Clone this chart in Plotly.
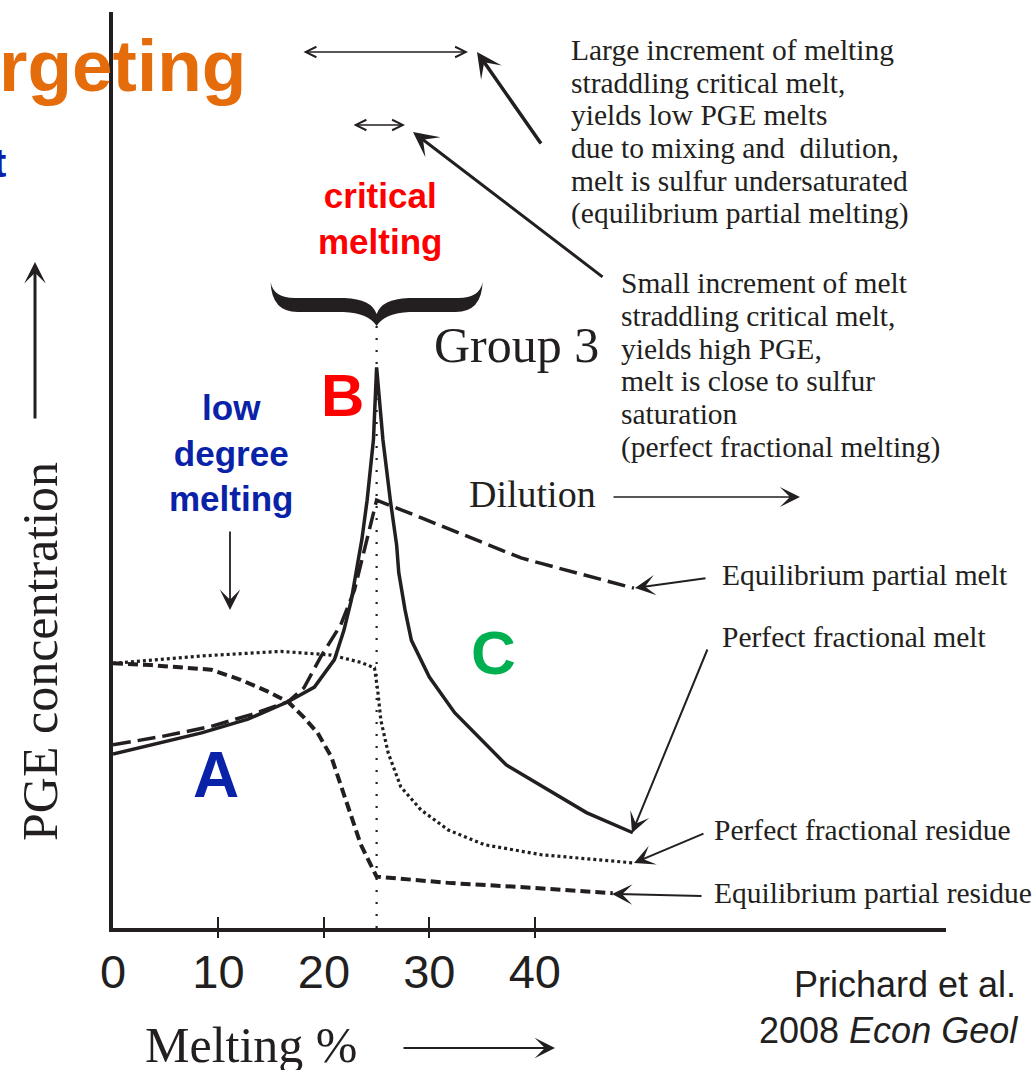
import plotly.graph_objects as go

# ---- data: PGE concentration (arbitrary units) vs. melting % ----
frac_melt_x = [0, 4.6, 8.4, 12.8, 16.6, 19.1, 21.0, 21.9, 22.6, 23.2, 23.6, 24.1, 24.7, 25.0,
               25.6, 26.3, 26.9, 27.1, 27.7, 28.3, 30.0, 32.4, 37.3, 44.9, 49.3]
frac_melt_y = [19.0, 20.3, 21.3, 22.8, 24.7, 26.3, 29.3, 32.5, 35.8, 39.8, 42.4, 46.7, 53.3, 61.2,
               53.3, 46.7, 41.8, 38.8, 34.7, 31.4, 27.4, 23.5, 17.8, 12.6, 10.4]

eq_melt_x = [0, 4.6, 9.3, 13.1, 16.6, 18.1, 19.7, 21.6, 22.9, 23.7, 24.5, 25.0,
             29.2, 34.0, 38.7, 40.6, 49.4]
eq_melt_y = [20.0, 20.9, 22.0, 23.3, 24.7, 26.2, 29.6, 33.1, 36.9, 40.7, 44.3, 46.7,
             44.8, 42.6, 40.4, 39.8, 37.1]

frac_res_x = [0, 8.4, 15.9, 20.7, 23.5, 24.8, 25.1, 25.4, 26.1, 27.3, 29.2, 31.8, 35.2, 40.6, 49.4]
frac_res_y = [28.9, 29.7, 30.2, 29.8, 29.0, 28.4, 26.0, 22.7, 19.1, 15.4, 12.9, 10.7, 9.1, 8.0, 7.1]

eq_res_x = [0, 3.6, 9.3, 12.1, 14.7, 16.6, 18.1, 19.4, 20.7, 22.1, 23.5, 25.0, 32.1, 39.7, 47.4]
eq_res_y = [28.9, 28.7, 28.2, 27.1, 25.8, 24.7, 23.0, 21.3, 18.7, 14.0, 9.1, 5.6, 4.9, 4.4, 3.8]

critical_melt = 25.0
critical_top = 65.8

tick_values = [0, 10, 20, 30, 40]
tick_labels = ["0", "10", "20", "30", "40"]

large_note_lines = [
    "Large increment of melting",
    "straddling critical melt,",
    "yields low PGE melts",
    "due to mixing and  dilution,",
    "melt is sulfur undersaturated",
    "(equilibrium partial melting)",
]
small_note_lines = [
    "Small increment of melt",
    "straddling critical melt,",
    "yields high PGE,",
    "melt is close to sulfur",
    "saturation",
    "(perfect fractional melting)",
]

# ---- styling ----
INK = "#231f20"
BLUE = "#0a22a8"
RED = "#ff0000"
GREEN = "#00b050"
ORANGE = "#e46c0a"
SERIF = "Liberation Serif"
SANS = "Liberation Sans"

W, H = 1034, 1070
L, R, T, B = 113, 88, 12, 142
PW, PH = W - L - R, H - T - B
X_MAX, Y_MAX = 79.0, 100.0


def dx(px):
    return (px - L) / PW * X_MAX


def dy(py):
    return (T + PH - py) / PH * Y_MAX


def fx(px):
    return (px - L) / PW


def fy(py):
    return (T + PH - py) / PH


fig = go.Figure()

fig.add_trace(go.Scatter(x=[critical_melt, critical_melt], y=[0, critical_top], mode="lines",
                         line=dict(color=INK, width=2.2, dash="2px,10px"), hoverinfo="skip"))
fig.add_trace(go.Scatter(x=eq_res_x, y=eq_res_y, mode="lines", name="Equilibrium partial residue",
                         line=dict(color=INK, width=4, dash="10px,5px")))
fig.add_trace(go.Scatter(x=frac_res_x, y=frac_res_y, mode="lines", name="Perfect fractional residue",
                         line=dict(color=INK, width=3.2, dash="3px,3px")))
fig.add_trace(go.Scatter(x=eq_melt_x, y=eq_melt_y, mode="lines", name="Equilibrium partial melt",
                         line=dict(color=INK, width=3.5, dash="18px,7px")))
fig.add_trace(go.Scatter(x=frac_melt_x, y=frac_melt_y, mode="lines", name="Perfect fractional melt",
                         line=dict(color=INK, width=3.5)))
# carrier for the outward half of the tick marks
fig.add_trace(go.Scatter(x=[], y=[], xaxis="x2", hoverinfo="skip"))

# ---- curly brace over the critical melting point ----
cx = L + critical_melt / X_MAX * PW
brace_pts = [
    ("M", [(-106, 282)]),
    ("Q", [(-103, 299), (-79, 298)]),
    ("L", [(-32, 298)]),
    ("Q", [(-5, 299), (0, 314)]),
    ("Q", [(5, 299), (32, 298)]),
    ("L", [(79, 298)]),
    ("Q", [(103, 299), (106, 282)]),
    ("Q", [(105, 312), (79, 312)]),
    ("L", [(33, 312)]),
    ("Q", [(8, 313), (0, 326)]),
    ("Q", [(-8, 313), (-33, 312)]),
    ("L", [(-79, 312)]),
    ("Q", [(-105, 312), (-106, 282)]),
]
path = ""
for cmd, pts in brace_pts:
    path += cmd + " " + " ".join(f"{dx(cx + ox):.4f},{dy(oy):.4f}" for ox, oy in pts) + " "
path += "Z"
fig.add_shape(type="path", path=path, xref="x", yref="y", fillcolor=INK, line=dict(width=0))

ann = []


def text(s, px, py, size, color=INK, family=SERIF, xanchor="left", bold=False, angle=0):
    ann.append(dict(x=fx(px), y=fy(py), xref="paper", yref="paper", text=s, showarrow=False,
                    xanchor=xanchor, yanchor="middle", textangle=angle,
                    font=dict(family=family, size=size, color=color,
                              weight="bold" if bold else "normal")))


def arrow(tip, tail, width, size, head=3, both=False):
    d = dict(x=fx(tip[0]), y=fy(tip[1]), xref="paper", yref="paper",
             ax=tail[0] - tip[0], ay=tail[1] - tip[1], text="", showarrow=True,
             arrowhead=head, arrowsize=size, arrowwidth=width, arrowcolor=INK,
             standoff=0, startstandoff=0)
    if both:
        d.update(arrowside="end+start", startarrowhead=head, startarrowsize=size)
    ann.append(d)


# headline fragments at the left edge
text("rgeting", -3, 66, 73, ORANGE, SANS, bold=True)
text("t", 8, 163, 40, BLUE, SANS, xanchor="right", bold=True)

# region labels
text("critical<br>melting", 380, 218, 35, RED, SANS, xanchor="center", bold=True)
text("low<br>degree<br>melting", 231, 453, 35, BLUE, SANS, xanchor="center", bold=True)
text("A", 216, 775, 64, BLUE, SANS, xanchor="center", bold=True)
text("B", 342, 395, 60, RED, SANS, xanchor="center", bold=True)
text("C", 493, 652, 62, GREEN, SANS, xanchor="center", bold=True)
text("Group 3", 432, 345, 50)
text("Dilution", 467, 494, 38)

for i, line in enumerate(large_note_lines):
    text(line, 569, 50 + i * 32.7, 29.5)
for i, line in enumerate(small_note_lines):
    text(line, 619, 283 + i * 32.8, 29.5)

# curve labels
text("Equilibrium partial melt", 720, 575, 29.5)
text("Perfect fractional melt", 720, 637, 29.5)
text("Perfect fractional residue", 712, 830, 29.5)
text("Equilibrium partial residue", 712, 893, 29.5)

# axis titles and source
text("PGE concentration", 40, 652, 50, xanchor="center", angle=-90)
text("Melting %", 251, 1045, 50, xanchor="center")
text("Prichard et al.", 1018, 985, 36, family=SANS, xanchor="right")
text("2008 <i>Econ Geol</i>", 1020, 1030, 36, family=SANS, xanchor="right")

# arrows
arrow((468, 52), (302, 52), 1.3, 1.6, head=5, both=True)
arrow((405, 125), (352, 125), 1.3, 1.6, head=5, both=True)
arrow((477, 52), (542, 145), 3.5, 1.2)
arrow((413, 132), (604, 278), 3.0, 1.4)
arrow((800, 497), (612, 497), 1.6, 2.1)
arrow((230, 610), (230, 530), 1.8, 1.9)
arrow((35, 262), (35, 420), 3.0, 1.2)
arrow((555, 1048), (402, 1048), 2.0, 1.7)
arrow((635, 588), (707, 578), 2.0, 1.7)
arrow((632, 833), (708, 648), 2.0, 1.7)
arrow((634, 863), (705, 833), 2.0, 1.7)
arrow((612, 894), (703, 896), 2.0, 1.7)

fig.update_layout(
    width=W, height=H,
    margin=dict(l=L, r=R, t=T, b=B),
    paper_bgcolor="white", plot_bgcolor="white",
    showlegend=False,
    annotations=ann,
    xaxis=dict(range=[0, X_MAX], showline=True, linewidth=3.5, linecolor=INK,
               showgrid=False, zeroline=False,
               tickmode="array", tickvals=tick_values, ticktext=tick_labels,
               ticks="inside", ticklen=11, tickwidth=2, tickcolor=INK,
               tickfont=dict(family=SANS, size=47, color=INK), ticklabelstandoff=0),
    xaxis2=dict(range=[0, X_MAX], overlaying="x", anchor="y", side="bottom",
                showline=False, showgrid=False, zeroline=False,
                tickmode="array", tickvals=tick_values[1:], showticklabels=False,
                ticks="outside", ticklen=9, tickwidth=2, tickcolor=INK),
    yaxis=dict(range=[0, Y_MAX], showline=True, linewidth=3.5, linecolor=INK,
               showgrid=False, zeroline=False, showticklabels=False, ticks=""),
)

fig.write_html("out.html")
